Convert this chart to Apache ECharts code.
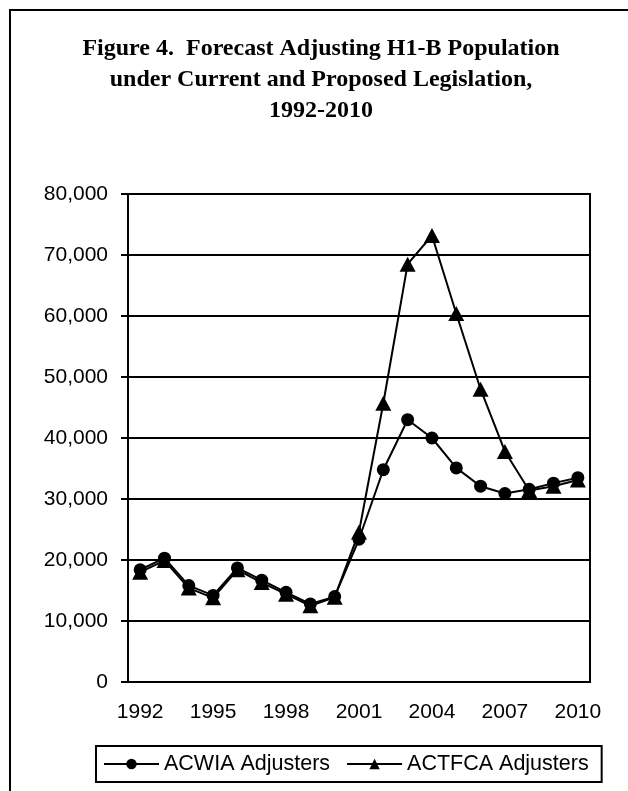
<!DOCTYPE html>
<html>
<head>
<meta charset="utf-8">
<script src="https://cdn.jsdelivr.net/npm/echarts@6.0.0/dist/echarts.min.js"></script>
<style>
  html, body { margin: 0; padding: 0; background: #fff; }
  #main { width: 628px; height: 791px; }
</style>
</head>
<body>
<div id="main"></div>
<script>
// data
const years = ['1992', '1993', '1994', '1995', '1996', '1997', '1998', '1999', '2000', '2001',
  '2002', '2003', '2004', '2005', '2006', '2007', '2008', '2009', '2010'];
const acwia = [18400, 20300, 15800, 14200, 18700, 16700, 14700, 12800, 14000, 23400,
  34800, 43000, 40000, 35100, 32100, 30900, 31600, 32600, 33500];
const actfca = [18000, 19900, 15400, 13800, 18400, 16300, 14400, 12500, 13900, 24600,
  45700, 68500, 73200, 60400, 48000, 37800, 31400, 32100, 33100];
const titleLines = ['Figure 4.  Forecast Adjusting H1-B Population',
  'under Current and Proposed Legislation,', '1992-2010'];

const sans = "'Liberation Sans', Arial, sans-serif";
const serif = "'Liberation Serif', 'Times New Roman', serif";

const chart = echarts.init(document.getElementById('main'));
chart.setOption({
  animation: false,
  backgroundColor: '#fff',
  // outer frame (only left and top edges fall inside the picture)
  graphic: [{
    type: 'rect',
    shape: { x: 10, y: 10, width: 800, height: 900 },
    style: { fill: 'none', stroke: '#000', lineWidth: 2 },
    silent: true
  }],
  title: {
    text: titleLines.join('\n'),
    left: 321,
    top: 33,
    padding: 0,
    textAlign: 'center',
    textStyle: {
      fontFamily: serif,
      fontWeight: 'bold',
      fontSize: 24,
      lineHeight: 31,
      color: '#000'
    }
  },
  legend: {
    left: 96,
    top: 746,
    padding: [7, 13, 7, 7],
    borderColor: '#000',
    borderWidth: 2,
    itemWidth: 55,
    itemHeight: 13,
    itemGap: 16,
    textStyle: { fontFamily: sans, fontSize: 21.5, color: '#000' },
    data: ['ACWIA Adjusters', 'ACTFCA Adjusters']
  },
  grid: {
    left: 128,
    right: 38,
    top: 194,
    bottom: 109,
    outerBoundsMode: 'none',
    show: true,
    borderColor: '#000',
    borderWidth: 2
  },
  xAxis: {
    type: 'category',
    data: years,
    boundaryGap: true,
    axisLine: { lineStyle: { color: '#000', width: 2 } },
    axisTick: { interval: 0, length: 6, lineStyle: { color: '#000', width: 2 } },
    axisLabel: { interval: 2, margin: 20, fontFamily: sans, fontSize: 21, color: '#000' },
    splitLine: { show: false }
  },
  yAxis: {
    type: 'value',
    min: 0,
    max: 80000,
    interval: 10000,
    axisLine: { show: true, lineStyle: { color: '#000', width: 2 } },
    axisTick: { show: true, length: 7, lineStyle: { color: '#000', width: 2 } },
    axisLabel: {
      margin: 20,
      fontFamily: sans,
      fontSize: 21,
      color: '#000',
      formatter: v => v.toLocaleString('en-US')
    },
    splitLine: { lineStyle: { color: '#000', width: 2 } }
  },
  series: [
    {
      name: 'ACWIA Adjusters',
      type: 'line',
      data: acwia,
      symbol: 'circle',
      symbolSize: 13,
      showAllSymbol: true,
      color: '#000',
      lineStyle: { color: '#000', width: 2 },
      itemStyle: { color: '#000' }
    },
    {
      name: 'ACTFCA Adjusters',
      type: 'line',
      data: actfca,
      symbol: 'triangle',
      symbolSize: [16, 15],
      showAllSymbol: true,
      color: '#000',
      lineStyle: { color: '#000', width: 2 },
      itemStyle: { color: '#000' }
    }
  ]
});
</script>
</body>
</html>
